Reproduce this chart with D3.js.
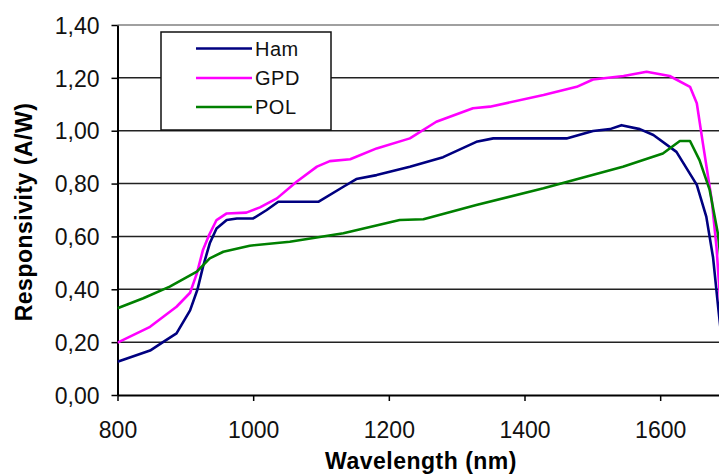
<!DOCTYPE html>
<html>
<head>
<meta charset="utf-8">
<script src="https://cdn.jsdelivr.net/npm/d3@7"></script>
<style>
  body { margin: 0; background: #fff; }
  svg { display: block; font-family: "Liberation Sans", Arial, sans-serif; }
</style>
</head>
<body>
<div id="chart"></div>
<script>
// data (wavelength in nm, responsivity in A/W)
let hamNm  = [800, 848, 867, 887, 907, 918, 926, 936, 946, 961, 976, 1000, 1020, 1037, 1096, 1133, 1152, 1182, 1231, 1280, 1329, 1354, 1462, 1501, 1526, 1543, 1570, 1590, 1624, 1654, 1668, 1678, 1686, 1692];
let hamVal = [0.126, 0.168, 0.20, 0.233, 0.32, 0.40, 0.485, 0.574, 0.63, 0.662, 0.668, 0.668, 0.70, 0.731, 0.731, 0.788, 0.817, 0.832, 0.864, 0.90, 0.958, 0.971, 0.971, 0.999, 1.006, 1.021, 1.006, 0.984, 0.92, 0.795, 0.675, 0.52, 0.32, 0.18];

let gpdNm  = [800, 848, 887, 907, 917, 926, 935, 946, 961, 990, 1010, 1035, 1064, 1094, 1113, 1143, 1182, 1231, 1270, 1324, 1349, 1428, 1477, 1501, 1546, 1580, 1614, 1644, 1654, 1663, 1676, 1683, 1690];
let gpdVal = [0.198, 0.258, 0.334, 0.387, 0.46, 0.549, 0.605, 0.662, 0.687, 0.69, 0.71, 0.744, 0.807, 0.864, 0.885, 0.892, 0.933, 0.971, 1.034, 1.085, 1.091, 1.135, 1.166, 1.194, 1.207, 1.223, 1.207, 1.166, 1.104, 0.952, 0.738, 0.561, 0.30];

let polNm  = [800, 838, 877, 917, 936, 956, 995, 1054, 1133, 1216, 1251, 1329, 1428, 1545, 1575, 1604, 1629, 1644, 1658, 1673, 1685, 1692];
let polVal = [0.328, 0.366, 0.41, 0.467, 0.517, 0.542, 0.565, 0.58, 0.612, 0.662, 0.665, 0.719, 0.782, 0.864, 0.889, 0.914, 0.961, 0.961, 0.889, 0.776, 0.612, 0.45];

let seriesNames = ["Ham", "GPD", "POL"];
let seriesColors = ["#000080", "#ff00ff", "#008000"];
let xTicks = [800, 1000, 1200, 1400, 1600];
let yTicks = [0, 0.2, 0.4, 0.6, 0.8, 1.0, 1.2, 1.4];

let width = 719, height = 476;
let plot = {left: 117.5, top: 25, right: 728, bottom: 395};

let x = d3.scaleLinear().domain([800, 1700]).range([plot.left, plot.right]);
let y = d3.scaleLinear().domain([0, 1.4]).range([plot.bottom, plot.top]);

let svg = d3.select("#chart").append("svg")
    .attr("width", width)
    .attr("height", height);

let comma = function(v) { return d3.format(".2f")(v).replace(".", ","); };

// gridlines
svg.append("g")
    .selectAll("line")
    .data(yTicks.filter(function(d) { return d > 0 && d < 1.4; }))
    .enter().append("line")
    .attr("x1", plot.left).attr("x2", plot.right)
    .attr("y1", function(d) { return y(d); })
    .attr("y2", function(d) { return y(d); })
    .attr("stroke", "#222")
    .attr("stroke-width", 1.5);

// top border (grey)
svg.append("line")
    .attr("x1", plot.left).attr("x2", plot.right)
    .attr("y1", y(1.4)).attr("y2", y(1.4))
    .attr("stroke", "#a0a0a0")
    .attr("stroke-width", 2);

// axes
let yAxis = svg.append("g")
    .attr("transform", "translate(" + plot.left + ",0)")
    .call(d3.axisLeft(y).tickValues(yTicks).tickFormat(comma).tickSize(6).tickSizeOuter(0));
let xAxis = svg.append("g")
    .attr("transform", "translate(0," + plot.bottom + ")")
    .call(d3.axisBottom(x).tickValues(xTicks).tickFormat(d3.format("d")).tickSize(6).tickSizeOuter(0));

[yAxis, xAxis].forEach(function(a) {
    a.select(".domain").attr("stroke", "#000").attr("stroke-width", 2);
    a.selectAll(".tick line").attr("stroke", "#000").attr("stroke-width", 1.5);
    a.selectAll(".tick text")
        .attr("fill", "#111")
        .style("font-size", "23px")
        .style("font-family", "'Liberation Sans', Arial, sans-serif");
});
yAxis.selectAll(".tick text").attr("x", -18).attr("dy", "0.36em");
xAxis.selectAll(".tick text").attr("y", 27).attr("dy", "0.71em");

// series lines
let line = d3.line()
    .x(function(d) { return x(d[0]); })
    .y(function(d) { return y(d[1]); });

svg.append("clipPath").attr("id", "clip")
    .append("rect")
    .attr("x", plot.left).attr("y", plot.top - 5)
    .attr("width", plot.right - plot.left).attr("height", plot.bottom - plot.top + 5);

let seriesData = [
    d3.zip(hamNm, hamVal),
    d3.zip(gpdNm, gpdVal),
    d3.zip(polNm, polVal)
];

svg.append("g").attr("clip-path", "url(#clip)")
    .selectAll("path")
    .data(seriesData)
    .enter().append("path")
    .attr("d", line)
    .attr("fill", "none")
    .attr("stroke", function(d, i) { return seriesColors[i]; })
    .attr("stroke-width", 2.6)
    .attr("stroke-linejoin", "round");

// legend
let legend = svg.append("g");
legend.append("rect")
    .attr("x", 161).attr("y", 32)
    .attr("width", 170).attr("height", 98)
    .attr("fill", "#fff")
    .attr("stroke", "#111")
    .attr("stroke-width", 1.5);

let legendY = [48.5, 78, 107];
seriesNames.forEach(function(name, i) {
    legend.append("line")
        .attr("x1", 196).attr("x2", 252)
        .attr("y1", legendY[i]).attr("y2", legendY[i])
        .attr("stroke", seriesColors[i])
        .attr("stroke-width", 2.6);
    legend.append("text")
        .attr("x", 255).attr("y", legendY[i])
        .attr("dy", "0.36em")
        .style("font-size", "20px")
        .style("letter-spacing", "0.5px")
        .attr("fill", "#111")
        .text(name);
});

// axis titles
svg.append("text")
    .attr("x", 421).attr("y", 469)
    .attr("text-anchor", "middle")
    .style("font-size", "23px")
    .style("font-weight", "bold")
    .style("letter-spacing", "0.5px")
    .attr("fill", "#000")
    .text("Wavelength (nm)");

svg.append("text")
    .attr("transform", "translate(32,212) rotate(-90)")
    .attr("text-anchor", "middle")
    .style("font-size", "23px")
    .style("font-weight", "bold")
    .style("letter-spacing", "0.5px")
    .attr("fill", "#000")
    .text("Responsivity (A/W)");
</script>
</body>
</html>
